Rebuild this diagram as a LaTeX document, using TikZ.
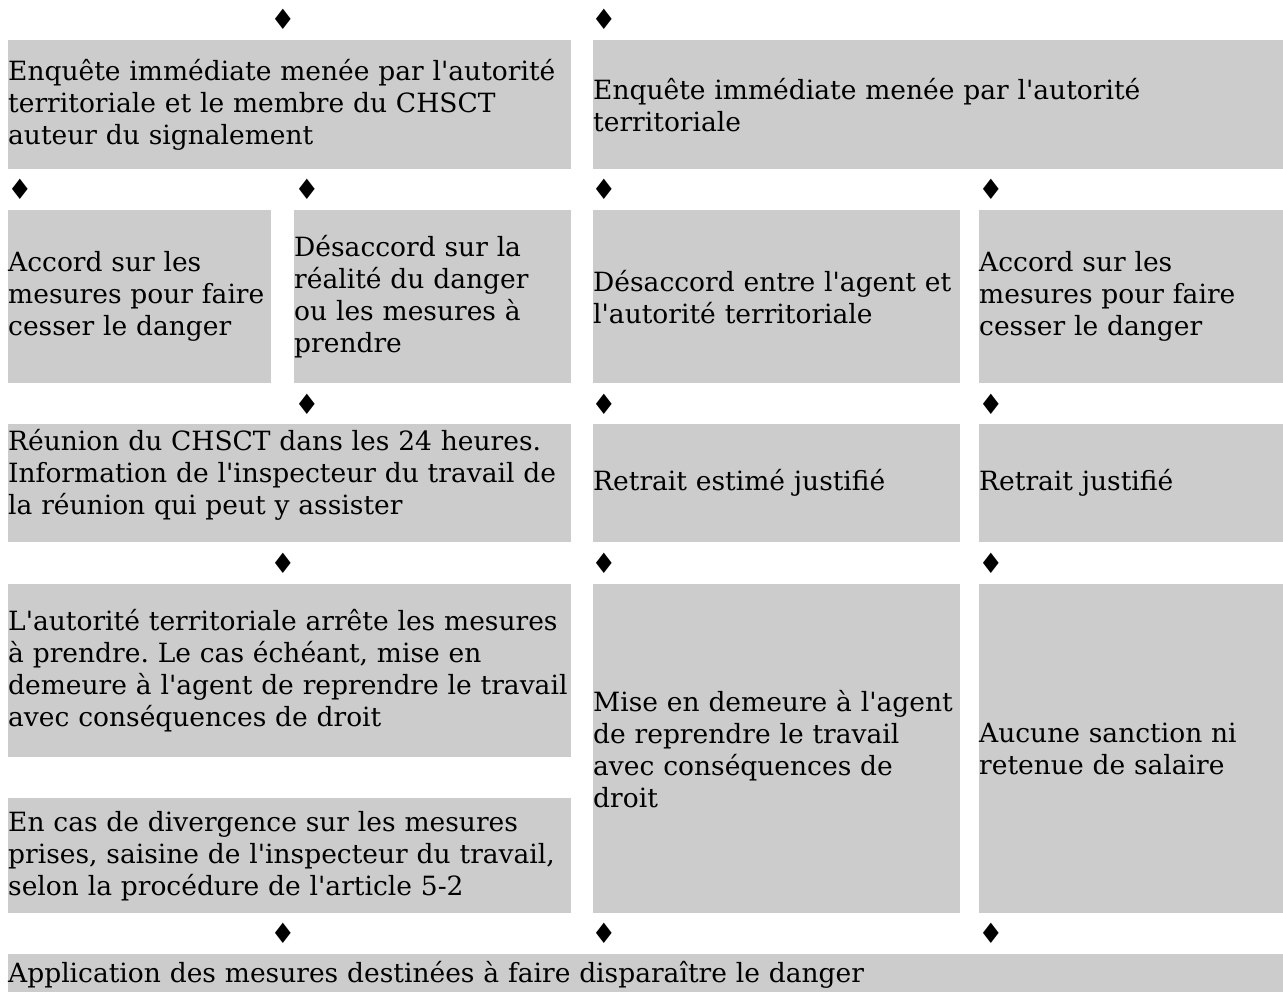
\documentclass[tikz,border=0pt]{standalone}
\usepackage{fontspec}
\setmainfont{DejaVu Serif}[Ligatures=TeXOff]
\newfontfamily\symbfont{DejaVu Sans}
\definecolor{boite}{HTML}{CCCCCC}
\frenchspacing
\begin{document}
\begin{tikzpicture}[x=1pt, y=-1pt,
  etape/.style = {fill=boite, anchor=north west, inner sep=0pt, align=left, font=\fontsize{26.5}{32}\selectfont},
  losange/.style = {inner sep=0pt, font=\symbfont\fontsize{28}{28}\selectfont}]
          \useasboundingbox (0,0) rectangle (1283,992);

          \node[losange](d01) at (283,19){♦};
          \node[losange](d02) at (604,19){♦};

          \node[etape, text width=563, minimum height=129](a) at (8,40){Enquête immédiate menée par l'autorité\\territoriale et le membre du CHSCT\\auteur du signalement};
          \node[etape, text width=690, minimum height=129](b) at (593,40){Enquête immédiate menée par l'autorité\\territoriale};

          \node[losange](d11) at (20,189){♦};
          \node[losange](d12) at (307,189){♦};
          \node[losange](d13) at (604,189){♦};
          \node[losange](d14) at (991,189){♦};

          \node[etape, text width=263, minimum height=173](c) at (8,210){Accord sur les\\mesures pour faire\\cesser le danger};
          \node[etape, text width=277, minimum height=173](d) at (294,210){Désaccord sur la\\réalité du danger\\ou les mesures à\\prendre};
          \node[etape, text width=367, minimum height=173](e) at (593,210){Désaccord entre l'agent et\\l'autorité territoriale};
          \node[etape, text width=304, minimum height=173](f) at (979,210){Accord sur les\\mesures pour faire\\cesser le danger};

          \node[losange](d21) at (307,404){♦};
          \node[losange](d22) at (604,404){♦};
          \node[losange](d23) at (991,404){♦};

          \node[etape, text width=563, minimum height=118](g) at (8,424){Réunion du CHSCT dans les 24 heures.\\Information de l'inspecteur du travail de\\la réunion qui peut y assister\par\kern16pt};
          \node[etape, text width=367, minimum height=118](h) at (593,424){Retrait estimé justifié};
          \node[etape, text width=304, minimum height=118](i) at (979,424){Retrait justifié};

          \node[losange](d31) at (283,563){♦};
          \node[losange](d32) at (604,563){♦};
          \node[losange](d33) at (991,563){♦};

          \node[etape, text width=563, minimum height=173](j) at (8,584){L'autorité territoriale arrête les mesures\\à prendre. Le cas échéant, mise en\\demeure à l'agent de reprendre le travail\\avec conséquences de droit};
          \node[etape, text width=563, minimum height=115](k) at (8,798){En cas de divergence sur les mesures\\prises, saisine de l'inspecteur du travail,\\selon la procédure de l'article 5-2};
          \node[etape, text width=367, minimum height=329](l) at (593,584){Mise en demeure à l'agent\\de reprendre le travail\\avec conséquences de\\droit};
          \node[etape, text width=304, minimum height=329](m) at (979,584){Aucune sanction ni\\retenue de salaire};

          \node[losange](d41) at (283,933){♦};
          \node[losange](d42) at (604,933){♦};
          \node[losange](d43) at (991,933){♦};

          \node[etape, text width=1275, minimum height=42](n) at (8,954){Application des mesures destinées à faire disparaître le danger};
      \end{tikzpicture}
\end{document}
